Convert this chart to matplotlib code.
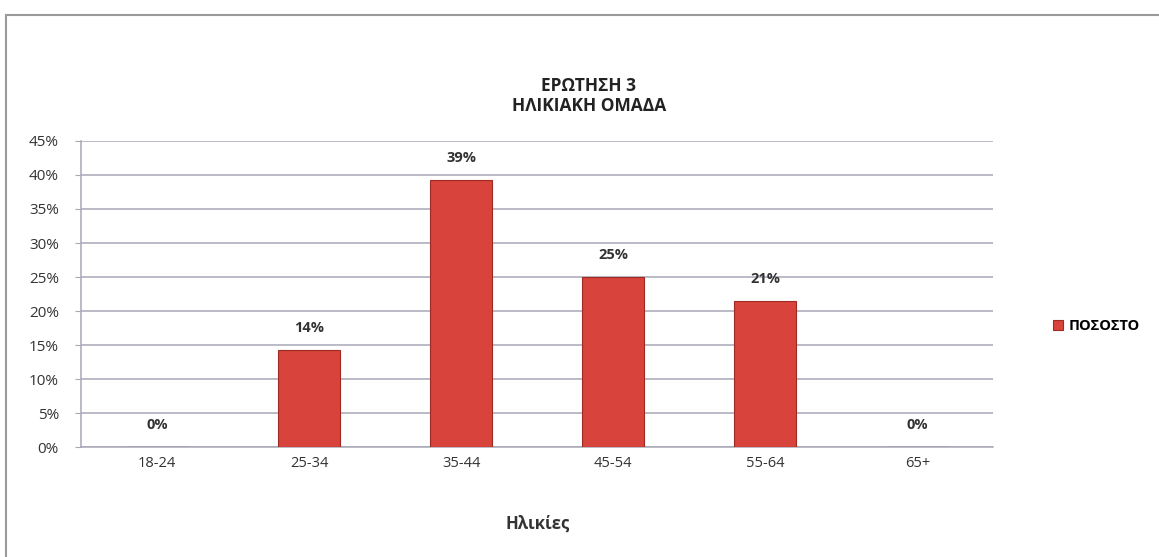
import matplotlib.pyplot as plt
from matplotlib.patches import Rectangle
from matplotlib.ticker import FuncFormatter, MultipleLocator

plt.rcParams['font.family'] = ['Open Sans', 'DejaVu Sans']

ilikies = ['18-24', '25-34', '35-44', '45-54', '55-64', '65+']
pososto = [0.0, 14.29, 39.29, 25.0, 21.43, 0.0]
etiketes = ['0%', '14%', '39%', '25%', '21%', '0%']

fig = plt.figure(figsize=(11.59, 5.57), dpi=100)
ax = fig.add_axes([0.070, 0.197, 0.787, 0.55])

# πλαίσιο γύρω από το γράφημα
fig.patches.append(Rectangle((0.005, -0.05), 1.2, 1.023, transform=fig.transFigure,
                             fill=False, edgecolor='#9a9a9a', linewidth=1.5))

x = range(len(ilikies))
bars = ax.bar(x, pososto, width=0.41, color='#d8433b', edgecolor='#9e2a24',
              linewidth=0.8, label='ΠΟΣΟΣΤΟ', zorder=3)

for xi, v, t in zip(x, pososto, etiketes):
    ax.annotate(t, (xi, v), xytext=(0, 11), textcoords='offset points',
                ha='center', va='bottom', fontsize=10.5, fontweight='bold', color='#333333')

ax.set_xlim(-0.5, len(ilikies) - 0.5)
ax.set_ylim(0, 45)
ax.yaxis.set_major_locator(MultipleLocator(5))
ax.yaxis.set_major_formatter(FuncFormatter(lambda v, p: f'{v:.0f}%'))
ax.set_xticks(list(x))
ax.set_xticklabels(ilikies)
ax.grid(axis='y', color='#a8a8b8', linewidth=1.1, zorder=0)
ax.tick_params(axis='y', length=4, color='#a8a8b8', labelsize=11, labelcolor='#333333', pad=12)
ax.tick_params(axis='x', length=0, labelsize=10.5, labelcolor='#333333', pad=6)
for s in ['top', 'right']:
    ax.spines[s].set_visible(False)
for s in ['left', 'bottom']:
    ax.spines[s].set_color('#a8a8b8')
    ax.spines[s].set_linewidth(1.1)

ax.set_xlabel('Ηλικίες', fontsize=12, fontweight='bold', color='#333333', labelpad=32)

fig.text(0.508, 0.845, 'ΕΡΩΤΗΣΗ 3', ha='center', va='center', fontsize=12.5, fontweight='bold', color='#222222')
fig.text(0.508, 0.81, 'ΗΛΙΚΙΑΚΗ ΟΜΑΔΑ', ha='center', va='center', fontsize=12.5, fontweight='bold', color='#222222')

fig.legend(handles=[bars], labels=['ΠΟΣΟΣΤΟ'], loc='center left', bbox_to_anchor=(0.897, 0.415),
           frameon=False, handlelength=0.7, handleheight=0.7, handletextpad=0.4,
           prop={'size': 10.5, 'weight': 'bold'})

plt.savefig('out.png', dpi=100)
